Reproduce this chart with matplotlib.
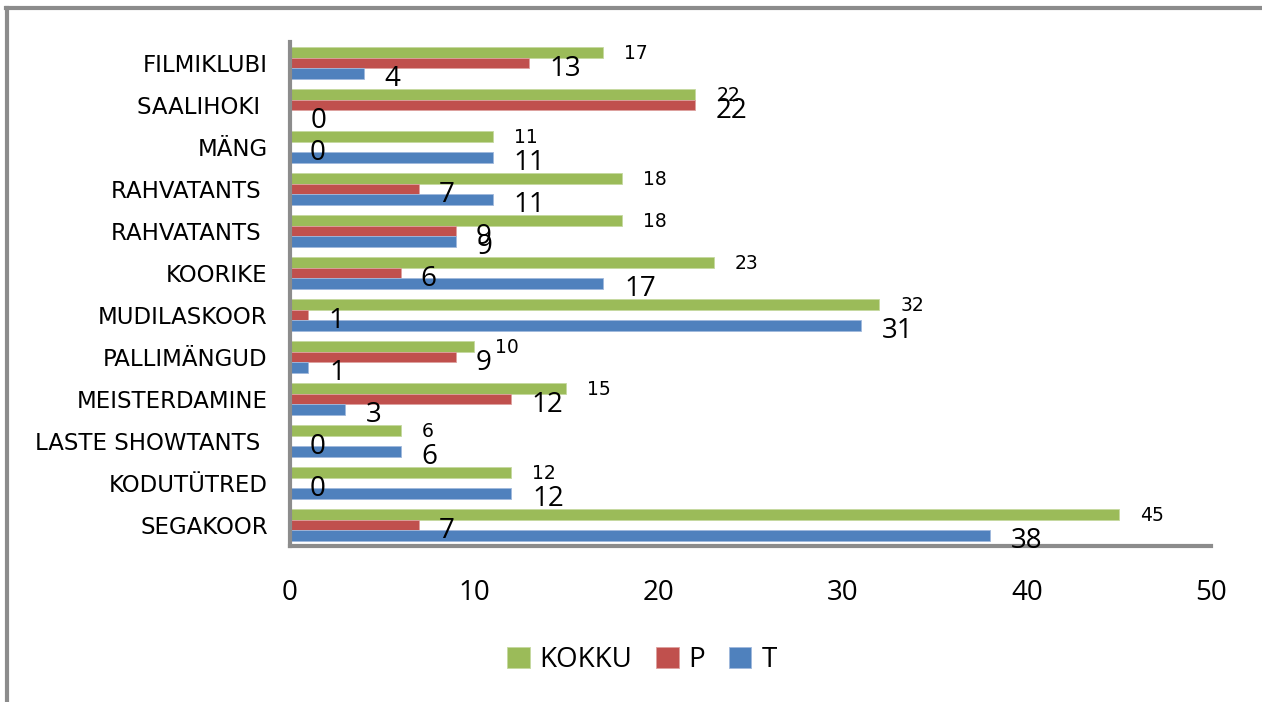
import matplotlib
matplotlib.use("Agg")
import matplotlib.pyplot as plt
from matplotlib.lines import Line2D
import numpy as np

categories = ["SEGAKOOR", "KODUTÜTRED", "LASTE SHOWTANTS ", "MEISTERDAMINE", "PALLIMÄNGUD",
              "MUDILASKOOR", "KOORIKE", "RAHVATANTS ", "RAHVATANTS ", "MÄNG", "SAALIHOKI ", "FILMIKLUBI"]
kokku = [45, 12, 6, 15, 10, 32, 23, 18, 18, 11, 22, 17]
p_vals = [7, 0, 0, 12, 9, 1, 6, 9, 7, 0, 22, 13]
t_vals = [38, 12, 6, 3, 1, 31, 17, 9, 11, 11, 0, 4]
xticks = [0, 10, 20, 30, 40, 50]

GREEN = "#9BBB59"
RED = "#C0504D"
BLUE = "#4F81BD"
GRAY = "#8C8C8C"

fig = plt.figure(figsize=(12.62, 7.02), dpi=100)
ax = fig.add_axes([290/1262, 1-546/702, (1211-290)/1262, (546-42)/702])

y = np.arange(len(categories))
h = 0.25
ax.barh(y + h, kokku, height=h, color=GREEN, label="KOKKU", edgecolor="#c5d9a0", linewidth=0.6)
ax.barh(y, p_vals, height=h, color=RED, label="P", edgecolor="#dda09e", linewidth=0.6)
ax.barh(y - h, t_vals, height=h, color=BLUE, label="T", edgecolor="#a0b8dc", linewidth=0.6)

for yi, v in zip(y, kokku):
    ax.annotate(str(v), (v, yi + h), xytext=(21, -1), textcoords="offset pixels",
                ha="left", va="center", fontsize=13.5, family="DejaVu Sans")
for yi, v in zip(y, p_vals):
    ax.annotate(str(v), (v, yi), xytext=(20, -6), textcoords="offset pixels",
                ha="left", va="center", fontsize=20, family="Open Sans")
for yi, v in zip(y, t_vals):
    ax.annotate(str(v), (v, yi - h), xytext=(21, -6), textcoords="offset pixels",
                ha="left", va="center", fontsize=20, family="Open Sans")

ax.set_xlim(0, 50)
ax.set_ylim(-0.5, len(categories) - 0.5)
ax.set_xticks(xticks)
ax.set_xticklabels([str(t) for t in xticks], fontsize=20, family="Open Sans")
ax.set_yticks(y)
ax.set_yticklabels(categories, fontsize=16.5, family="DejaVu Sans")
ax.tick_params(axis="x", length=0, pad=24)
ax.tick_params(axis="y", length=0, pad=16)
for s in ["top", "right"]:
    ax.spines[s].set_visible(False)
for s in ["left", "bottom"]:
    ax.spines[s].set_color(GRAY)
    ax.spines[s].set_linewidth(3)

leg = fig.legend(loc="center", bbox_to_anchor=(642/1262, 1-660/702), ncol=3, frameon=False,
                 prop={"family": "Open Sans", "size": 20}, handlelength=0.8, handleheight=0.8,
                 handletextpad=0.36, columnspacing=0.86)

fig.add_artist(Line2D([7/1262, 7/1262], [0, 1-8/702], transform=fig.transFigure, color=GRAY, linewidth=3))
fig.add_artist(Line2D([6/1262, 1], [1-8/702, 1-8/702], transform=fig.transFigure, color=GRAY, linewidth=3))

fig.savefig("out.png", dpi=100)
